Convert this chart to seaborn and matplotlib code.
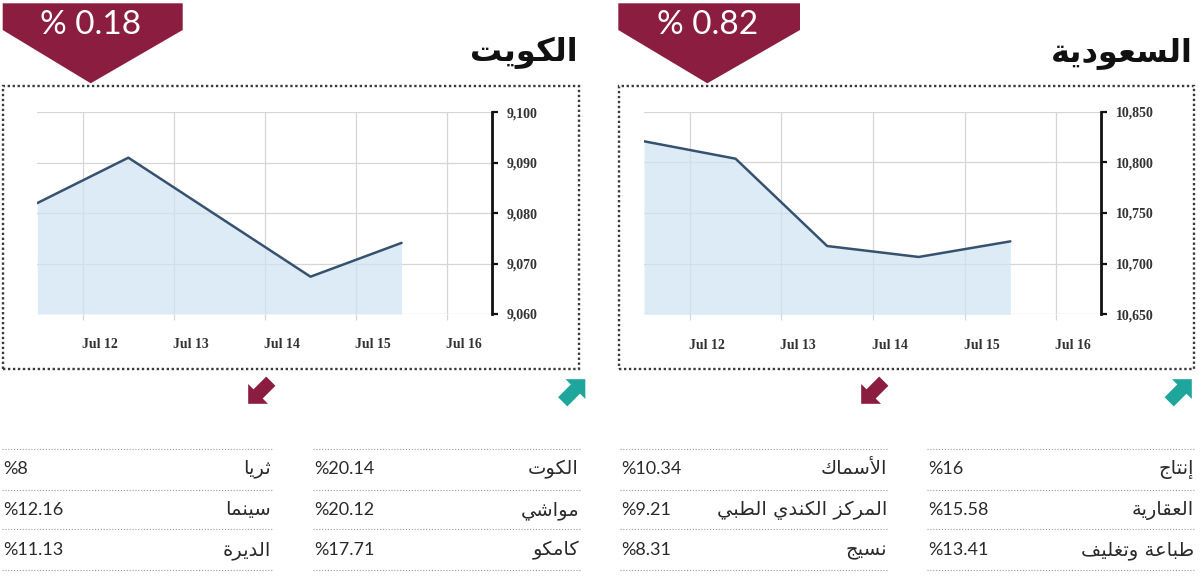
import math
import matplotlib
matplotlib.use("Agg")
import matplotlib.pyplot as plt
import seaborn as sns
from matplotlib.patches import Polygon, Rectangle
from matplotlib.lines import Line2D
from matplotlib.transforms import ScaledTranslation
from matplotlib.ticker import FuncFormatter

# ---------------- data ----------------
day_ticks = [12, 13, 14, 15, 16]
day_labels = ["Jul 12", "Jul 13", "Jul 14", "Jul 15", "Jul 16"]

kuwait_days = [11.5, 12.5, 14.5, 15.5]
kuwait_index = [9082.0, 9091.0, 9067.4, 9074.1]
kuwait_yticks = [9060, 9070, 9080, 9090, 9100]

saudi_days = [11.5, 12.5, 13.5, 14.5, 15.5]
saudi_index = [10820.8, 10803.6, 10717.4, 10706.6, 10722.0]
saudi_yticks = [10650, 10700, 10750, 10800, 10850]

kuwait_title = "الكويت"
saudi_title = "السعودية"
kuwait_change = "% 0.18"
saudi_change = "% 0.82"

kuwait_gainers = ["الكوت", "مواشي", "كامكو"]
kuwait_gainers_pct = ["%20.14", "%20.12", "%17.71"]
kuwait_losers = ["ثريا", "سينما", "الديرة"]
kuwait_losers_pct = ["%8", "%12.16", "%11.13"]

saudi_gainers = ["إنتاج", "العقارية", "طباعة وتغليف"]
saudi_gainers_pct = ["%16", "%15.58", "%13.41"]
saudi_losers = ["الأسماك", "المركز الكندي الطبي", "نسيج"]
saudi_losers_pct = ["%10.34", "%9.21", "%8.31"]

# ---------------- Arabic shaping (presentation forms + visual order) ----------------
AR_FORMS = {
    '\u0621': (0xFE80, 1), '\u0622': (0xFE81, 2), '\u0623': (0xFE83, 2), '\u0624': (0xFE85, 2),
    '\u0625': (0xFE87, 2), '\u0626': (0xFE89, 4), '\u0627': (0xFE8D, 2), '\u0628': (0xFE8F, 4),
    '\u0629': (0xFE93, 2), '\u062A': (0xFE95, 4), '\u062B': (0xFE99, 4), '\u062C': (0xFE9D, 4),
    '\u062D': (0xFEA1, 4), '\u062E': (0xFEA5, 4), '\u062F': (0xFEA9, 2), '\u0630': (0xFEAB, 2),
    '\u0631': (0xFEAD, 2), '\u0632': (0xFEAF, 2), '\u0633': (0xFEB1, 4), '\u0634': (0xFEB5, 4),
    '\u0635': (0xFEB9, 4), '\u0636': (0xFEBD, 4), '\u0637': (0xFEC1, 4), '\u0638': (0xFEC5, 4),
    '\u0639': (0xFEC9, 4), '\u063A': (0xFECD, 4), '\u0641': (0xFED1, 4), '\u0642': (0xFED5, 4),
    '\u0643': (0xFED9, 4), '\u0644': (0xFEDD, 4), '\u0645': (0xFEE1, 4), '\u0646': (0xFEE5, 4),
    '\u0647': (0xFEE9, 4), '\u0648': (0xFEED, 2), '\u0649': (0xFEEF, 2), '\u064A': (0xFEF1, 4),
}
LAM_ALEF = {'\u0622': 0xFEF5, '\u0623': 0xFEF7, '\u0625': 0xFEF9, '\u0627': 0xFEFB}


def shape(text):
    out = []
    prev = None
    i, n = 0, len(text)
    while i < n:
        c = text[i]
        if c not in AR_FORMS:
            out.append(c)
            prev = None
            i += 1
            continue
        connect_prev = prev is not None and AR_FORMS[prev][1] == 4
        if c == '\u0644' and i + 1 < n and text[i + 1] in LAM_ALEF:
            out.append(chr(LAM_ALEF[text[i + 1]] + (1 if connect_prev else 0)))
            prev = text[i + 1]
            i += 2
            continue
        base, nf = AR_FORMS[c]
        nxt = text[i + 1] if i + 1 < n else None
        connect_next = nf == 4 and nxt in AR_FORMS
        if nf == 1:
            form = 0
        elif connect_prev and connect_next:
            form = 3
        elif connect_prev:
            form = 1
        elif connect_next:
            form = 2
        else:
            form = 0
        out.append(chr(base + form))
        prev = c
        i += 1
    return ''.join(reversed(out))


# ---------------- style ----------------
sns.set_theme(style="white")
plt.rcParams['font.family'] = ['DejaVu Sans']

W, H = 1200, 581
fig = plt.figure(figsize=(W / 100, H / 100), dpi=100)
fig.patch.set_facecolor("white")


def fx(px):
    return px / W


def fy(py):
    return 1 - py / H


MAROON = "#8b1d41"
TEAL = "#1ea59c"
LINE = "#36526e"
FILL = "#cfe3f4"
GRID = "#d6d6d6"
TXT = "#2a2a2a"


def draw_arrow(cx, cy, dx, dy, color, L=32, h=14, s=6.5):
    m = math.hypot(dx, dy)
    dx, dy = dx / m, dy / m
    px, py = -dy, dx
    tipx, tipy = cx + dx * L / 2, cy + dy * L / 2
    bx, by = tipx - dx * h, tipy - dy * h
    tx, ty = cx - dx * L / 2, cy - dy * L / 2
    pts = [(tipx, tipy), (bx + px * h, by + py * h), (bx + px * s, by + py * s),
           (tx + px * s, ty + py * s), (tx - px * s, ty - py * s),
           (bx - px * s, by - py * s), (bx - px * h, by - py * h)]
    fig.add_artist(Polygon([(fx(a), fy(b)) for a, b in pts], closed=True,
                           transform=fig.transFigure, fc=color, ec="none"))


def panel(box, axrect, badge, title, title_x, change, days, values, yticks, arrows):
    # dotted frame
    bx0, by0, bx1, by1 = box
    fig.add_artist(Rectangle((fx(bx0), fy(by1)), (bx1 - bx0) / W, (by1 - by0) / H,
                             transform=fig.transFigure, fill=False,
                             ls=(0, (1, 1.1)), lw=1.7, ec="#3a3a3a"))
    # chart
    ax0, ay0, ax1, ay1 = axrect
    ax = fig.add_axes([fx(ax0), fy(ay1), (ax1 - ax0) / W, (ay1 - ay0) / H])
    ax.set_facecolor("none")
    ymin, ymax = yticks[0], yticks[-1]
    ax.fill_between(days, values, ymin, color=FILL, alpha=0.7, lw=0, zorder=1)
    sns.lineplot(x=days, y=values, ax=ax, color=LINE, linewidth=1.8, zorder=3)
    ax.set_xlim(11.5, 16.49)
    ax.set_ylim(ymin, ymax)
    ax.set_xticks(day_ticks)
    ax.set_xticklabels(day_labels)
    ax.set_yticks(yticks)
    ax.yaxis.set_major_formatter(FuncFormatter(lambda v, p: f"{v:,.0f}"))
    ax.yaxis.tick_right()
    ax.grid(True, color=GRID, lw=0.9, zorder=0)
    ax.set_axisbelow(True)
    for sp in ["top", "left", "bottom"]:
        ax.spines[sp].set_visible(False)
    ax.spines["right"].set_visible(True)
    ax.spines["right"].set_color("#111111")
    ax.spines["right"].set_linewidth(2.0)
    ax.tick_params(axis="x", bottom=True, length=4.5, width=0.9, color=GRID,
                   pad=13, labelsize=10, labelcolor="#333333")
    ax.tick_params(axis="y", right=True, left=False, length=4, width=1.6,
                   color="#111111", pad=6.5, labelsize=10, labelcolor="#333333")
    for lab in ax.get_xticklabels() + ax.get_yticklabels():
        lab.set_fontfamily("Liberation Serif")
        lab.set_fontweight("bold")
    off = ScaledTranslation(17 / 100, 0, fig.dpi_scale_trans)
    for lab in ax.get_xticklabels():
        lab.set_transform(lab.get_transform() + off)
    ax.set_xlabel("")
    ax.set_ylabel("")

    # badge
    x0, x1, xm = badge
    pts = [(x0, 3.3), (x1, 3.3), (x1, 30), (xm, 83.3), (x0, 30)]
    fig.add_artist(Polygon([(fx(a), fy(b)) for a, b in pts], closed=True,
                           transform=fig.transFigure, fc=MAROON, ec="none"))
    fig.text(fx(xm), fy(25), change, ha="center", va="center", color="white",
             fontsize=24, family="Lato")
    # title
    fig.text(fx(title_x), fy(53), shape(title), ha="right", va="center",
             color="#111111", fontsize=23, fontweight="bold", family="DejaVu Sans")
    # arrows
    (mx, my), (tx, ty) = arrows
    draw_arrow(mx, my, -1, 1, MAROON)
    draw_arrow(tx, ty, 1, -1, TEAL)


def table(c0, c1, names, pcts):
    row_y = [469, 510, 550]
    sep_y = [448.5, 489.5, 529, 570]
    for y in sep_y:
        fig.add_artist(Line2D([fx(c0), fx(c1)], [fy(y), fy(y)], transform=fig.transFigure,
                              color="#9a9a9a", lw=0.8, ls=(0, (1, 1.6))))
    for y, nm, pc in zip(row_y, names, pcts):
        fig.text(fx(c1 - 1), fy(y), shape(nm), ha="right", va="center", color=TXT,
                 fontsize=14, family="DejaVu Sans")
        fig.text(fx(c0 + 1), fy(y), pc, ha="left", va="center", color=TXT,
                 fontsize=13, family="Lato")


panel(box=(3, 85.7, 579, 369), axrect=(37.3, 112.3, 491.7, 314),
      badge=(2.7, 182.7, 90.7), title=kuwait_title, title_x=578, change=kuwait_change,
      days=kuwait_days, values=kuwait_index, yticks=kuwait_yticks,
      arrows=((259.5, 392.5), (574, 390.5)))
panel(box=(619.3, 85.7, 1194, 368.7), axrect=(644, 111.7, 1101, 314.3),
      badge=(618.3, 800, 707.3), title=saudi_title, title_x=1193, change=saudi_change,
      days=saudi_days, values=saudi_index, yticks=saudi_yticks,
      arrows=((872.5, 392.5), (1180.5, 390.5)))

table(2, 272, kuwait_losers, kuwait_losers_pct)
table(313, 580, kuwait_gainers, kuwait_gainers_pct)
table(620, 888, saudi_losers, saudi_losers_pct)
table(927, 1195, saudi_gainers, saudi_gainers_pct)

fig.savefig("out.png", dpi=100, facecolor="white")
